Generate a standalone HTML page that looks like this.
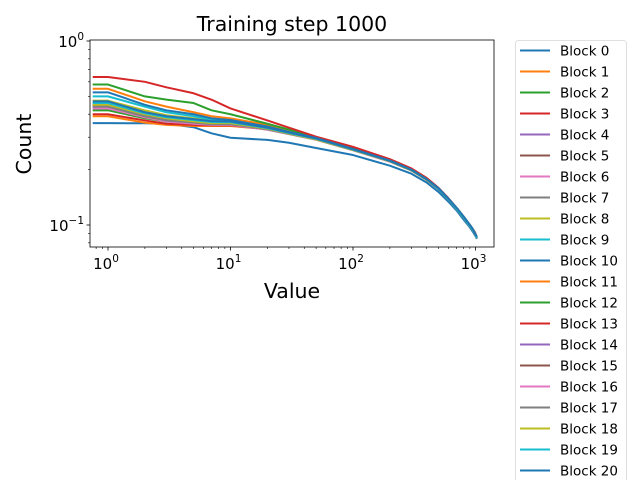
<!DOCTYPE html>
<html><head><meta charset="utf-8"><style>
html,body{margin:0;padding:0;background:#fff;}
svg{display:block;font-family:"DejaVu Sans","Liberation Sans",sans-serif;}
</style></head><body>
<svg id="chart" width="640" height="480" viewBox="0 0 640 480"></svg>
<script>
const xs = [0.75,1,2,3,5,7,10,20,30,50,100,200,300,400,500,600,700,800,900,950,990,1010,1024];
const blockNames = ["Block 0","Block 1","Block 2","Block 3","Block 4","Block 5","Block 6","Block 7","Block 8","Block 9","Block 10","Block 11","Block 12","Block 13","Block 14","Block 15","Block 16","Block 17","Block 18","Block 19","Block 20"];
const b0  = [0.358,0.358,0.357,0.355,0.34,0.315,0.298,0.29,0.28,0.262,0.24,0.21,0.19,0.17,0.151,0.134,0.12,0.107,0.097,0.092,0.088,0.086,0.084];
const b1  = [0.55,0.55,0.47,0.44,0.41,0.39,0.38,0.35,0.325,0.298,0.262,0.226,0.201,0.178,0.158,0.139,0.124,0.111,0.1,0.095,0.091,0.088,0.086];
const b2  = [0.58,0.58,0.50,0.48,0.46,0.42,0.40,0.355,0.33,0.30,0.264,0.227,0.202,0.179,0.158,0.139,0.124,0.111,0.1,0.095,0.091,0.088,0.086];
const b3  = [0.637,0.637,0.60,0.56,0.52,0.48,0.43,0.37,0.338,0.302,0.266,0.228,0.203,0.18,0.159,0.14,0.124,0.111,0.1,0.095,0.091,0.088,0.086];
const b4  = [0.45,0.45,0.40,0.38,0.37,0.36,0.36,0.335,0.315,0.293,0.256,0.222,0.198,0.176,0.157,0.138,0.123,0.11,0.099,0.094,0.09,0.087,0.085];
const b5  = [0.44,0.44,0.39,0.37,0.36,0.355,0.355,0.333,0.313,0.292,0.256,0.222,0.198,0.176,0.157,0.138,0.123,0.11,0.099,0.094,0.09,0.087,0.085];
const b6  = [0.43,0.43,0.39,0.37,0.355,0.35,0.35,0.33,0.312,0.291,0.255,0.221,0.198,0.176,0.157,0.138,0.123,0.11,0.099,0.094,0.09,0.087,0.085];
const b7  = [0.46,0.46,0.41,0.385,0.37,0.362,0.362,0.336,0.316,0.293,0.256,0.222,0.198,0.176,0.157,0.138,0.123,0.11,0.099,0.094,0.09,0.087,0.085];
const b8  = [0.474,0.474,0.42,0.395,0.38,0.37,0.365,0.338,0.318,0.295,0.257,0.223,0.199,0.177,0.157,0.138,0.123,0.11,0.099,0.094,0.09,0.087,0.085];
const b9  = [0.50,0.50,0.44,0.41,0.39,0.375,0.37,0.342,0.32,0.296,0.258,0.223,0.199,0.177,0.158,0.139,0.123,0.11,0.099,0.094,0.09,0.087,0.085];
const b10 = [0.526,0.526,0.45,0.42,0.40,0.38,0.372,0.343,0.321,0.297,0.259,0.224,0.2,0.177,0.158,0.139,0.124,0.111,0.1,0.095,0.09,0.088,0.086];
const b11 = [0.39,0.39,0.36,0.35,0.345,0.345,0.345,0.332,0.314,0.292,0.256,0.222,0.198,0.176,0.157,0.138,0.123,0.11,0.099,0.094,0.09,0.087,0.085];
const b12 = [0.42,0.42,0.38,0.365,0.355,0.35,0.35,0.33,0.312,0.291,0.255,0.222,0.198,0.176,0.157,0.138,0.123,0.11,0.099,0.094,0.09,0.087,0.085];
const b13 = [0.40,0.40,0.37,0.355,0.35,0.348,0.348,0.332,0.314,0.292,0.256,0.222,0.198,0.176,0.157,0.138,0.123,0.11,0.099,0.094,0.09,0.087,0.085];
const b14 = [0.44,0.44,0.395,0.375,0.362,0.355,0.355,0.333,0.313,0.292,0.256,0.222,0.198,0.176,0.157,0.138,0.123,0.11,0.099,0.094,0.09,0.087,0.085];
const b15 = [0.45,0.45,0.40,0.38,0.366,0.358,0.358,0.334,0.314,0.292,0.256,0.222,0.198,0.176,0.157,0.138,0.123,0.11,0.099,0.094,0.09,0.087,0.085];
const b16 = [0.43,0.43,0.385,0.365,0.355,0.35,0.35,0.33,0.312,0.291,0.255,0.221,0.198,0.176,0.157,0.138,0.123,0.11,0.099,0.094,0.09,0.087,0.085];
const b17 = [0.44,0.44,0.39,0.37,0.36,0.353,0.353,0.332,0.313,0.292,0.256,0.222,0.198,0.176,0.157,0.138,0.123,0.11,0.099,0.094,0.09,0.087,0.085];
const b18 = [0.45,0.45,0.40,0.38,0.366,0.358,0.358,0.334,0.314,0.292,0.256,0.222,0.198,0.176,0.157,0.138,0.123,0.11,0.099,0.094,0.09,0.087,0.085];
const b19 = [0.46,0.46,0.405,0.385,0.372,0.363,0.362,0.336,0.316,0.294,0.257,0.223,0.199,0.177,0.157,0.138,0.123,0.11,0.099,0.094,0.09,0.087,0.085];
const b20 = [0.47,0.47,0.41,0.39,0.376,0.367,0.365,0.338,0.318,0.295,0.258,0.223,0.199,0.177,0.158,0.139,0.124,0.111,0.1,0.095,0.09,0.088,0.086];
const series = [b0,b1,b2,b3,b4,b5,b6,b7,b8,b9,b10,b11,b12,b13,b14,b15,b16,b17,b18,b19,b20];
const xTickVals = [1,10,100,1000];
const xTickExp = ["0","1","2","3"];
const yTickVals = [0.1,1];
const yTickExp = ["\u22121","0"];

const colors=["#1f77b4","#ff7f0e","#2ca02c","#d62728","#9467bd","#8c564b","#e377c2","#7f7f7f","#bcbd22","#17becf"];
const NS="http://www.w3.org/2000/svg";
const svg=document.getElementById('chart');
const L=90,R=494,T=40,B=247;
const x0=108, pxPerDecX=122.5, y1=41, pxPerDecY=184;
function sx(v){return x0+Math.log10(v)*pxPerDecX;}
function sy(v){return y1-Math.log10(v)*pxPerDecY;}
function el(t,a,p){const e=document.createElementNS(NS,t);for(const k in a)e.setAttribute(k,a[k]);(p||svg).appendChild(e);return e;}

const clip=el('clipPath',{id:'cp'});el('rect',{x:L,y:T,width:R-L,height:B-T},clip);
const plot=el('g',{'clip-path':'url(#cp)'});


series.forEach((s,i)=>{
  const d=s.map((v,j)=>(j?'L':'M')+sx(xs[j]).toFixed(2)+','+sy(v).toFixed(2)).join(' ');
  const p=el('path',{d:d,fill:'none',stroke:colors[i%10],'stroke-width':2,'stroke-linejoin':'round'},plot);
  
  
});
const frame=el('rect',{x:L,y:T,width:R-L,height:B-T,fill:'none',stroke:'#000','stroke-width':0.8});



for(let d=-1;d<=3;d++){for(let m=1;m<10;m++){const v=m*Math.pow(10,d);const x=sx(v);if(x<L||x>R)continue;
  el('line',{x1:x,x2:x,y1:B,y2:B+(m===1?3.5:2),stroke:'#000','stroke-width':m===1?0.8:0.6});}}
xTickVals.forEach((v,i)=>{const t=el('text',{x:sx(v)-2,y:B+22,'text-anchor':'middle','font-size':15});
  
  
  t.innerHTML='10<tspan dy="-7" font-size="10.5">'+xTickExp[i]+'</tspan>';});
for(let d=-2;d<=0;d++){for(let m=1;m<10;m++){const v=m*Math.pow(10,d);const y=sy(v);if(y<T-0.5||y>B)continue;
  el('line',{x1:L,x2:L-(m===1?3.5:2),y1:y,y2:y,stroke:'#000','stroke-width':m===1?0.8:0.6});}}
yTickVals.forEach((v,i)=>{const t=el('text',{x:L-6,y:sy(v)+6,'text-anchor':'end','font-size':15});
  
  
  t.innerHTML='10<tspan dy="-7" font-size="10.5">'+yTickExp[i]+'</tspan>';});

const title=el('text',{x:292,y:31,'text-anchor':'middle','font-size':20.5});title.textContent='Training step 1000';


const xl=el('text',{x:292,y:298,'text-anchor':'middle','font-size':20.5});xl.textContent='Value';


const yl=el('text',{x:31,y:144,'text-anchor':'middle','font-size':20.5,transform:'rotate(-90 31 144)'});yl.textContent='Count';



const lg=el('g',{});


el('rect',{x:515.5,y:40.5,width:111,height:450,rx:3,fill:'#fff',stroke:'#d6d6d6','stroke-width':0.8},lg);
blockNames.forEach((n,i)=>{const y=50.5+i*21.0;
  const g=el('g',{},lg);
  
  
  el('line',{x1:520,x2:550,y1:y,y2:y,stroke:colors[i%10],'stroke-width':2},g);
  const t=el('text',{x:560,y:y+5,'font-size':13.5},g);t.textContent=n;});
</script>
</body></html>
